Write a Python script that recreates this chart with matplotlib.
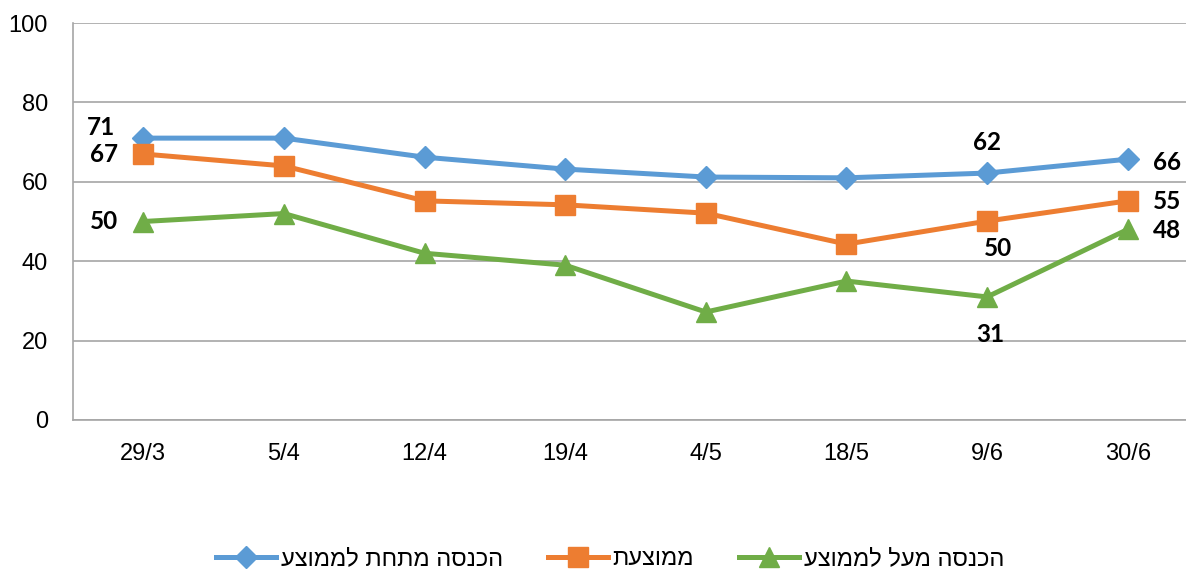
import matplotlib
matplotlib.use('Agg')
import matplotlib.pyplot as plt

plt.rcParams['font.family'] = ['Liberation Sans', 'DejaVu Sans']

dates = ['29/3', '5/4', '12/4', '19/4', '4/5', '18/5', '9/6', '30/6']
below_avg = [71, 71, 66.2, 63.2, 61.2, 61, 62.2, 65.7]
avg = [67, 64, 55.2, 54.2, 52.1, 44.3, 50.1, 55.2]
above_avg = [50, 52, 42, 39, 27.2, 35, 31, 48]

names = ['הכנסה מתחת לממוצע', 'ממוצעת', 'הכנסה מעל לממוצע']
colors = ['#5B9BD5', '#ED7D31', '#70AD47']
markers = ['D', 's', '^']
msizes = [11, 14, 14]

# which points get a value label and where (offset in pixels)
label_pts = [
    [(0, 71, -42, 11), (6, 62, 0, 31), (7, 66, 39, -3)],
    [(0, 67, -39, 0), (6, 50, 11, -27), (7, 55, 39, -1)],
    [(0, 50, -39, 0), (6, 31, 3, -38), (7, 48, 39, -1)],
]

fig = plt.figure(figsize=(11.86, 5.69), dpi=100)
ax = fig.add_axes([73 / 1186, 1 - 420 / 569, 1125 / 1186, 397 / 569])

x = list(range(len(dates)))
for vals, name, c, m, ms, labs in zip([below_avg, avg, above_avg], names,
                                       colors, markers, msizes, label_pts):
    # matplotlib has no bidi support, so hebrew is reversed for display
    ax.plot(x, vals, color=c, lw=3.6, marker=m, markersize=ms,
            label=name[::-1], zorder=3)
    for i, txt, dx, dy in labs:
        ax.annotate(str(txt), (i, vals[i]), xytext=(dx, dy),
                    textcoords='offset pixels', ha='center', va='center',
                    fontsize=17.5, fontweight='bold', family=['Lato', 'DejaVu Sans'],
                    color='black')

ax.set_xlim(-0.5, len(dates) - 0.5)
ax.set_ylim(0, 100)
ax.set_yticks(range(0, 101, 20))
ax.set_xticks(x)
ax.set_xticklabels(dates)
ax.tick_params(axis='both', length=0, labelsize=17, colors='black')
ax.tick_params(axis='x', pad=16.5)
ax.tick_params(axis='y', pad=18)
ax.grid(axis='y', color='#A6A6A6', lw=1.2)
ax.set_axisbelow(True)
for s in ['top', 'right']:
    ax.spines[s].set_visible(False)
for s in ['left', 'bottom']:
    ax.spines[s].set_color('#A6A6A6')
    ax.spines[s].set_linewidth(1.2)

fig.legend(loc='center', bbox_to_anchor=(610 / 1186, 1 - 559 / 569), ncol=3,
           frameon=False, fontsize=17, handlelength=2.55, handletextpad=0.2,
           columnspacing=1.9, borderaxespad=0)

fig.savefig('out.png', dpi=100)
